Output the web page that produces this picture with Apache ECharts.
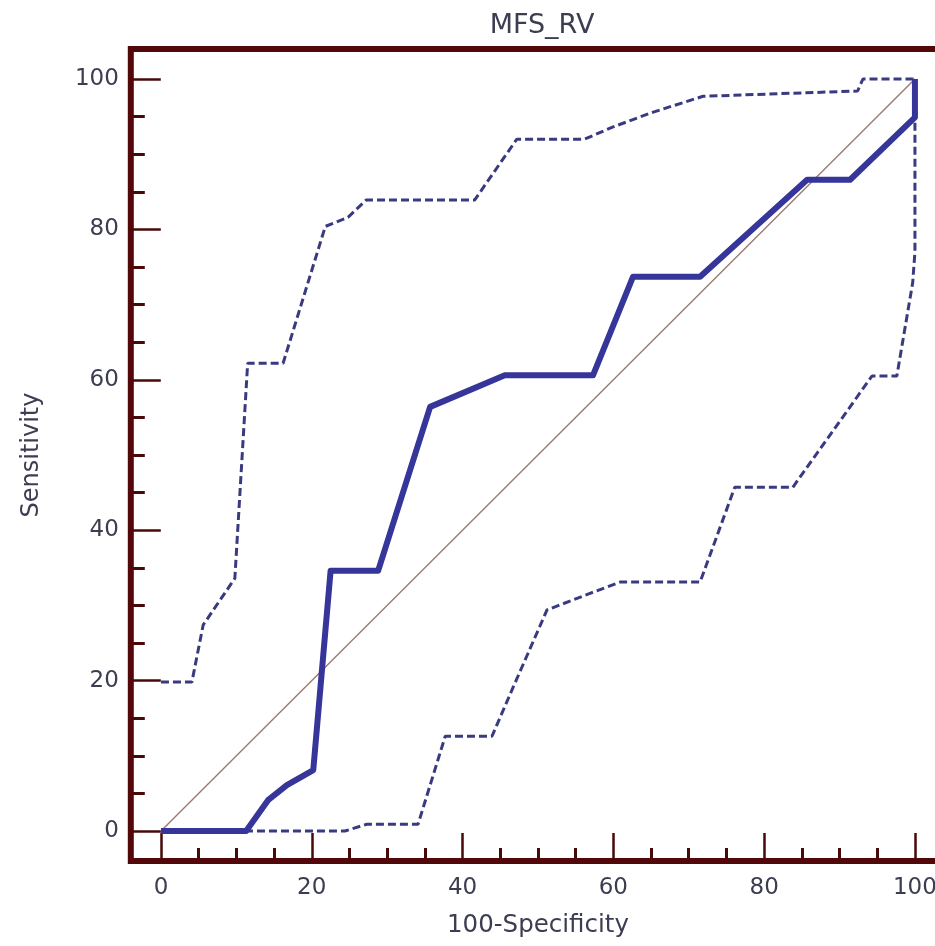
<!DOCTYPE html>
<html>
<head>
<meta charset="utf-8">
<script src="https://cdn.jsdelivr.net/npm/echarts@6/dist/echarts.min.js"></script>
<style>
html,body{margin:0;padding:0;background:#fff;overflow:hidden;}
#chart{width:935px;height:946px;}
</style>
</head>
<body>
<div id="chart"></div>
<script>
// ROC curve (100-Specificity vs Sensitivity)
const rocX = [0, 11.3, 14.2, 16.7, 20.2, 22.5, 28.8, 35.7, 45.6, 57.3, 62.6, 71.5, 85.7, 91.4, 100, 100];
const rocY = [0, 0, 4.1, 6.1, 8.1, 34.6, 34.6, 56.4, 60.6, 60.6, 73.7, 73.7, 86.6, 86.6, 94.9, 100];
// upper confidence bound
const upX = [0, 4.1, 5.6, 9.8, 11.5, 16.2, 21.8, 24.8, 27.2, 41.6, 47.2, 56.2, 59.9, 65.3, 71.9, 92.4, 93.1, 100];
const upY = [19.8, 19.8, 27.4, 33.6, 62.2, 62.2, 80.4, 81.6, 83.9, 83.9, 92.0, 92.0, 93.6, 95.6, 97.7, 98.4, 100, 100];
// lower confidence bound
const loX = [0, 24.4, 27.3, 34.1, 37.7, 43.9, 46.7, 51.2, 56.9, 60.9, 71.5, 76.1, 83.8, 94.3, 97.6, 99.7, 100, 100];
const loY = [0, 0, 0.9, 0.9, 12.6, 12.6, 19.1, 29.4, 31.6, 33.1, 33.1, 45.7, 45.7, 60.5, 60.5, 72.9, 77, 100];
// reference diagonal
const diagX = [0, 100];
const diagY = [0, 100];
// ticks
const majorTicks = [0, 20, 40, 60, 80, 100];
const minorTicks = [5, 10, 15, 25, 30, 35, 45, 50, 55, 65, 70, 75, 85, 90, 95];

const pairs = (xs, ys) => xs.map((x, i) => [x, ys[i]]);

const frameColor = '#520808';
const tickColor = '#4a0808';
const textColor = '#3d3d52';
const fontFamily = 'DejaVu Sans';

const chart = echarts.init(document.getElementById('chart'), null, {renderer: 'canvas'});

const common = {min: -4, max: 104, type: 'value', splitLine: {show: false}};

chart.setOption({
  animation: false,
  backgroundColor: '#fff',
  title: {
    text: 'MFS_RV',
    left: 537,
    textAlign: 'center',
    top: 7,
    textStyle: {fontFamily, fontSize: 27, fontWeight: 'normal', color: textColor}
  },
  grid: {
    left: 130.8, top: 48.9, width: 814.3, height: 812.2,
    outerBoundsMode: 'none', containLabel: false,
    show: true, borderColor: frameColor, borderWidth: 6, backgroundColor: '#fff'
  },
  xAxis: [
    Object.assign({}, common, {
      position: 'bottom',
      name: '100-Specificity', nameLocation: 'middle', nameGap: 52,
      nameTextStyle: {fontFamily, fontSize: 24.5, color: textColor},
      axisLine: {show: false, onZero: false},
      axisTick: {show: true, inside: true, length: 28, lineStyle: {color: tickColor, width: 2.5}, customValues: majorTicks},
      axisLabel: {show: true, margin: 15, fontFamily, fontSize: 23, color: textColor, customValues: majorTicks}
    }),
    Object.assign({}, common, {
      position: 'bottom', offset: 0,
      axisLine: {show: false, onZero: false},
      axisTick: {show: true, inside: true, length: 13, lineStyle: {color: tickColor, width: 3}, customValues: minorTicks},
      axisLabel: {show: false}
    })
  ],
  yAxis: [
    Object.assign({}, common, {
      position: 'left',
      name: 'Sensitivity', nameLocation: 'middle', nameGap: 87,
      nameTextStyle: {fontFamily, fontSize: 24, color: textColor},
      axisLine: {show: false, onZero: false},
      axisTick: {show: true, inside: true, length: 30, lineStyle: {color: tickColor, width: 2.5}, customValues: majorTicks},
      axisLabel: {show: true, margin: 12, fontFamily, fontSize: 23, color: textColor, customValues: majorTicks}
    }),
    Object.assign({}, common, {
      position: 'left', offset: 0,
      axisLine: {show: false, onZero: false},
      axisTick: {show: true, inside: true, length: 14, lineStyle: {color: tickColor, width: 3}, customValues: minorTicks},
      axisLabel: {show: false}
    })
  ],
  series: [
    {
      type: 'line', name: 'diagonal', data: pairs(diagX, diagY), symbol: 'none',
      lineStyle: {color: '#9c7a70', width: 1.4}, z: 1
    },
    {
      type: 'line', name: 'upper', data: pairs(upX, upY), symbol: 'none',
      lineStyle: {color: '#3a3a80', width: 3, type: [8, 4]}, z: 2
    },
    {
      type: 'line', name: 'lower', data: pairs(loX, loY), symbol: 'none',
      lineStyle: {color: '#3a3a80', width: 3, type: [8, 4]}, z: 2
    },
    {
      type: 'line', name: 'ROC', data: pairs(rocX, rocY), symbol: 'none',
      lineStyle: {color: '#35359a', width: 6, join: 'round'}, z: 3
    }
  ]
});
</script>
</body>
</html>
